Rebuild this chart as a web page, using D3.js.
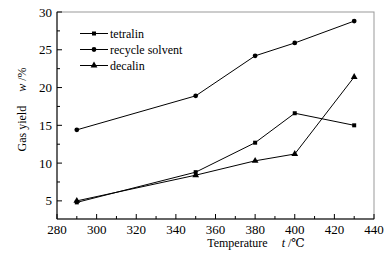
<!DOCTYPE html>
<html><head><meta charset="utf-8">
<script src="https://cdn.jsdelivr.net/npm/d3@7"></script>
<style>body{margin:0;background:#fff}svg{display:block}</style>
</head><body><svg id="c" width="388" height="262"></svg>
<script>
const temps = [290, 350, 380, 400, 430];
const tetralin = [4.8, 8.8, 12.7, 16.6, 15.0];
const recycle = [14.4, 18.9, 24.2, 25.9, 28.8];
const decalin = [5.0, 8.4, 10.3, 11.2, 21.4];
const seriesNames = ["tetralin", "recycle solvent", "decalin"];
const xTicks = [280, 300, 320, 340, 360, 380, 400, 420, 440];
const yTicks = [5, 10, 15, 20, 25, 30];

const FF = "'Liberation Serif', 'DejaVu Serif', serif";
const svg = d3.select("#c");
const L = 57, R = 374, T = 12, B = 219;
const x = d3.scaleLinear().domain([280, 440]).range([L, R]);
const y = d3.scaleLinear().domain([2.6, 30]).range([B, T]);

svg.append("rect").attr("x", L).attr("y", T).attr("width", R - L).attr("height", B - T)
  .attr("fill", "none").attr("stroke", "#999").attr("stroke-width", 1);

const g = svg.append("g").attr("stroke", "#000").attr("stroke-width", 1);
d3.range(280, 441, 10).forEach(v => {
  const major = v % 20 === 0;
  g.append("line").attr("x1", x(v)).attr("x2", x(v)).attr("y1", B).attr("y2", B - (major ? 5 : 3));
});
d3.range(5, 30.1, 2.5).forEach(v => {
  const major = v % 5 === 0;
  g.append("line").attr("y1", y(v)).attr("y2", y(v)).attr("x1", L).attr("x2", L + (major ? 5 : 3));
});
g.append("line").attr("x1", L).attr("x2", R).attr("y1", B).attr("y2", B);
g.append("line").attr("x1", L).attr("x2", L).attr("y1", T).attr("y2", B);

svg.append("g").selectAll("text").data(xTicks).join("text")
  .style("font-family", FF).style("font-size", "13px")
  .attr("x", d => x(d)).attr("y", B + 15).attr("text-anchor", "middle").text(d => d);
svg.append("g").selectAll("text").data(yTicks).join("text")
  .style("font-family", FF).style("font-size", "13px")
  .attr("x", L - 5).attr("y", d => y(d) + 4.5).attr("text-anchor", "end").text(d => d);

const xt = svg.append("text").style("font-family", FF).style("font-size", "12px")
  .attr("x", 256).attr("y", 247).attr("text-anchor", "middle");
xt.append("tspan").text("Temperature");
xt.append("tspan").attr("dx", 14).attr("font-style", "italic").text("t");
xt.append("tspan").text(" /℃");

const yt = svg.append("text").style("font-family", FF).style("font-size", "12px")
  .attr("transform", `translate(26,${(T + B) / 2 - 6}) rotate(-90)`).attr("text-anchor", "middle");
yt.append("tspan").text("Gas yield");
yt.append("tspan").attr("dx", 14).attr("font-style", "italic").text("w");
yt.append("tspan").text(" /%");

const data = [tetralin, recycle, decalin];
const shapes = [d3.symbolSquare, d3.symbolCircle, d3.symbolTriangle];
const sizes = [16, 18, 20];
const line = d3.line().x((d, i) => x(temps[i])).y(d => y(d));
data.forEach((s, k) => {
  svg.append("path").attr("d", line(s)).attr("fill", "none").attr("stroke", "#000").attr("stroke-width", 1);
  svg.append("g").selectAll("path").data(s).join("path")
    .attr("transform", (d, i) => `translate(${x(temps[i])},${y(d)})`)
    .attr("d", d3.symbol().type(shapes[k]).size(sizes[k])).attr("fill", "#000");
});

const ly = [33.5, 49.5, 65.5];
seriesNames.forEach((n, k) => {
  svg.append("line").attr("x1", 80).attr("x2", 108).attr("y1", ly[k]).attr("y2", ly[k]).attr("stroke", "#000");
  svg.append("path").attr("transform", `translate(94,${ly[k]})`).attr("d", d3.symbol().type(shapes[k]).size(sizes[k])).attr("fill", "#000");
  svg.append("text").style("font-family", FF).style("font-size", "12px")
    .attr("x", 110).attr("y", ly[k] + 4).text(n);
});
</script></body></html>
